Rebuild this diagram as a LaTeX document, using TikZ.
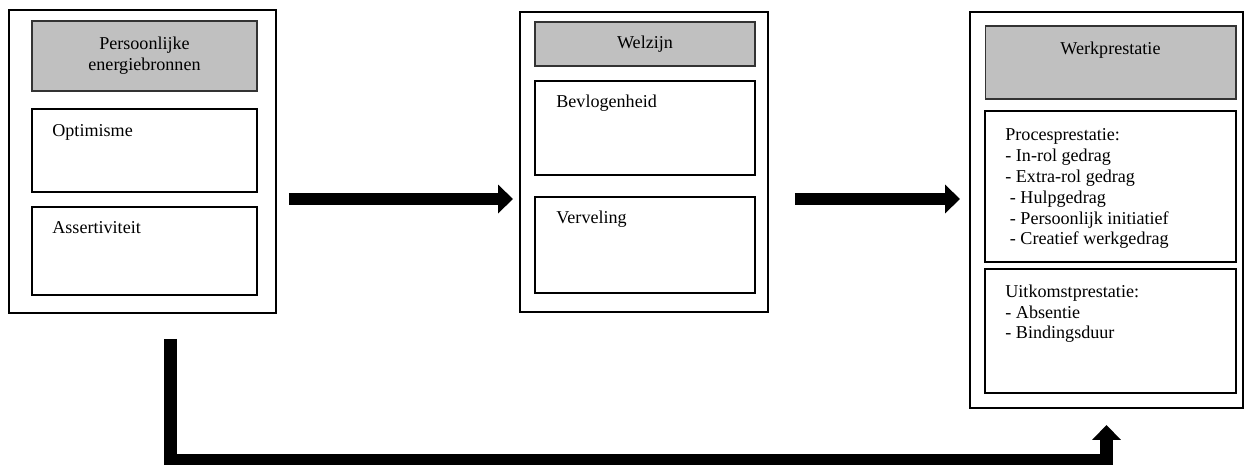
\documentclass[tikz,border=0pt]{standalone}
\usepackage{fontspec}
\setmainfont{Liberation Serif}
\usepackage{tikz}
\usetikzlibrary{
	arrows.meta,
	positioning,
	calc
}
\definecolor{kopgrijs}{RGB}{192,192,192}

\begin{document}
\begin{tikzpicture}[
			x=0.02cm, y=0.02cm,
			font=\fontsize{10.3pt}{11.9pt}\selectfont,
			buiten/.style={draw, line width=0.7pt, outer sep=0pt, inner sep=0pt},
			kop/.style={draw=black!80, line width=0.6pt, fill=kopgrijs, outer sep=0pt, align=center},
			vak/.style={draw, line width=0.9pt, outer sep=0pt, inner sep=0pt},
			tekst/.style={anchor=base west, inner sep=0pt, align=left},
			pijl/.style={line width=0.25cm, -{Triangle[length=0.3cm, width=0.56cm]}}
		]
		\useasboundingbox (0,0) rectangle (1245,-464);

		% persoonlijke energiebronnen
		\node[buiten, minimum width=5.34cm, minimum height=6.06cm] (pers) at (142.5,-161.5) {};
		\node[kop, minimum width=4.5cm, minimum height=1.4cm] (persKop) at (144.5,-56) {Persoonlijke\\ energiebronnen};
		\node[vak, minimum width=4.5cm, minimum height=1.66cm, below=0.36cm of persKop] (optim) {};
		\node[vak, minimum width=4.5cm, minimum height=1.76cm, below=0.3cm of optim] (assert) {};
		\node[tekst] at ([shift={(20,-28)}]optim.north west) {Optimisme};
		\node[tekst] at ([shift={(20,-27)}]assert.north west) {Assertiviteit};

		% welzijn
		\node[buiten, minimum width=4.96cm, minimum height=6.0cm] (welz) at (644,-162) {};
		\node[kop, minimum width=4.4cm, minimum height=0.88cm] (welzKop) at (645,-44) {Welzijn};
		\node[vak, minimum width=4.4cm, minimum height=1.88cm, below=0.3cm of welzKop] (bevl) {};
		\node[vak, minimum width=4.4cm, minimum height=1.92cm, below=0.44cm of bevl] (verv) {};
		\node[tekst] at ([shift={(21,-27)}]bevl.north west) {Bevlogenheid};
		\node[tekst] at ([shift={(21,-27)}]verv.north west) {Verveling};

		% werkprestatie (base = laatste regel)
		\node[buiten, minimum width=5.46cm, minimum height=7.92cm] (werk) at (1106.5,-210) {};
		\node[kop, minimum width=5.02cm, inner sep=0pt, text height=0.56cm, text depth=0.9cm] (werkKop) at (1110.5,-62.5) {Werkprestatie};
		\node[vak, minimum width=5.02cm, minimum height=3.02cm, below=0.24cm of werkKop] (proces) {};
		\node[vak, minimum width=5.02cm, minimum height=2.48cm, below=0.14cm of proces] (uitk) {};
		\node[tekst] at ([shift={(20,-134)}]proces.north west) {Procesprestatie:\\- In-rol gedrag\\- Extra-rol gedrag\\\ - Hulpgedrag\\\ - Persoonlijk initiatief\\\ - Creatief werkgedrag};
		\node[tekst] at ([shift={(20,-70)}]uitk.north west) {Uitkomstprestatie:\\- Absentie\\- Bindingsduur};

		% pijlen
		\coordinate (rij) at (0,-199);
		\coordinate (laag) at (170.5,-460);
		\draw[pijl, shorten <=0.26cm, shorten >=0.14cm] (pers.east |- rij) -- (welz.west |- rij);
		\draw[pijl, shorten <=0.54cm, shorten >=0.2cm] (welz.east |- rij) -- (werk.west |- rij);
		\draw[pijl, shorten <=0.52cm, shorten >=0.34cm] (pers.south -| laag) -- (laag) -| (werk.south);
	\end{tikzpicture}
\end{document}
